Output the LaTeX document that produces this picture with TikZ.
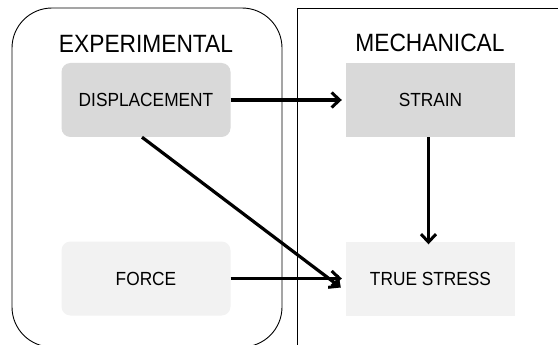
\documentclass[tikz,border=0pt]{standalone}
\usepackage{fontspec}
\setmainfont{Liberation Sans}
\newfontfamily\narrowfont[FakeStretch=0.91]{Liberation Sans}
\usetikzlibrary{arrows.meta}
\definecolor{darkbox}{HTML}{D9D9D9}
\definecolor{lightbox}{HTML}{F2F2F2}
\begin{document}
\begin{tikzpicture}[x=1pt,y=-1pt,
  titletext/.style={font=\narrowfont\fontsize{25}{28}\selectfont, inner sep=0pt, anchor=center},
  boxlabel/.style={minimum width=169pt, minimum height=74pt, draw=none, inner sep=0pt,
     font=\narrowfont\fontsize{19}{22}\selectfont},
  flow/.style={line width=3.2pt, -{Straight Barb[length=8pt,width=15pt,line width=3pt]}},
  frame/.style={draw=black, line width=0.9pt}]
\useasboundingbox (0,0) rectangle (558,345);
\clip (0,0) rectangle (558,345);
\fill[white] (0,0) rectangle (558,345);
% group frames
\draw[frame, rounded corners=40pt] (12,8) rectangle (282,347);
\draw[frame] (297,8) rectangle (570,360);
\node[titletext] (exp) at (146,44) {EXPERIMENTAL};
\node[titletext] (mech) at (430,43) {MECHANICAL};
% boxes
\node[boxlabel, fill=darkbox, rounded corners=9pt] (disp) at (146,100) {DISPLACEMENT};
\node[boxlabel, fill=lightbox, rounded corners=9pt] (force) at (146,278.5) {FORCE};
\node[boxlabel, fill=darkbox] (strain) at (430.5,100) {STRAIN};
\node[boxlabel, fill=lightbox] (stress) at (430.5,278.5) {TRUE STRESS};
% connectors
\draw[flow] (disp.east) -- ([xshift=-4pt]strain.west);
\draw[flow] (force.east) -- ([xshift=-4pt]stress.west);
\draw[flow] ([xshift=-4pt]disp.south) -- ([xshift=-5pt,yshift=-9pt]stress.west);
\draw[flow] ([xshift=-2pt]strain.south) -- ([xshift=-2pt,yshift=-3pt]stress.north);
\end{tikzpicture}
\end{document}
